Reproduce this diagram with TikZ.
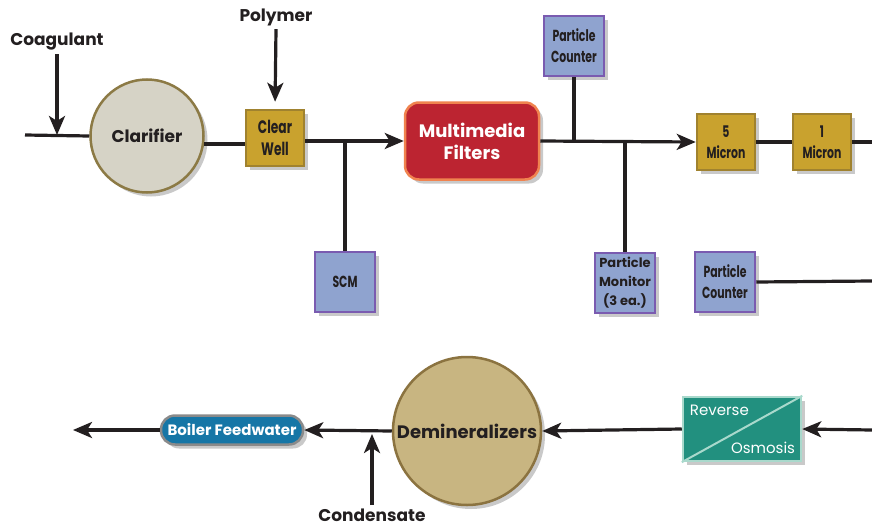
\documentclass[tikz,border=0pt]{standalone}
\usepackage{fontspec}
\setmainfont{Poppins}
\newfontfamily\narrowfont[FakeStretch=0.68]{Poppins}
\usetikzlibrary{arrows.meta,shadows}

\definecolor{linec}{HTML}{231F20}
\definecolor{clarfill}{HTML}{D6D3C6}
\definecolor{clardraw}{HTML}{8C7A45}
\definecolor{goldfill}{HTML}{C9A22E}
\definecolor{golddraw}{HTML}{A0822F}
\definecolor{meterfill}{HTML}{8FA3CF}
\definecolor{meterdraw}{HTML}{7A5BB0}
\definecolor{filtfill}{HTML}{BC2431}
\definecolor{filtdraw}{HTML}{F0834F}
\definecolor{rofill}{HTML}{22907F}
\definecolor{rodraw}{HTML}{A9D9CC}
\definecolor{deminfill}{HTML}{C8B581}
\definecolor{demindraw}{HTML}{8B7340}
\definecolor{bfwfill}{HTML}{1676A6}
\definecolor{bfwdraw}{HTML}{8A8A8A}

\begin{document}
\begin{tikzpicture}[x=1pt,y=-1pt,
    pipe/.style={line width=3.2pt, draw=linec},
    flow/.style={pipe, -{Stealth[length=19pt,width=16pt,inset=5pt]}},
    boxshadow/.style={drop shadow={shadow xshift=4pt,shadow yshift=-4pt,opacity=0.3,fill=black!70}},
    tag/.style={font=\bfseries\fontsize{17}{20}\selectfont, text=linec},
    gold/.style={draw=golddraw, fill=goldfill, line width=2.5pt, minimum width=58pt,
      minimum height=56pt, inner sep=0pt, align=center, text=linec,
      font=\narrowfont\bfseries\fontsize{16}{21}\selectfont, boxshadow},
    meter/.style={gold, draw=meterdraw, fill=meterfill, minimum width=60pt, minimum height=60pt},
    clarstyle/.style={circle, draw=clardraw, fill=clarfill, line width=2.5pt,
      minimum size=113pt, inner sep=0pt, text=linec, tag, boxshadow},
    filt/.style={rectangle, rounded corners=14pt, draw=filtdraw, fill=filtfill,
      line width=2.5pt, minimum width=134pt, minimum height=77pt, align=center,
      text=white, font=\bfseries\fontsize{18}{22}\selectfont, boxshadow},
    demstyle/.style={circle, draw=demindraw, fill=deminfill, line width=2.5pt,
      minimum size=148pt, inner sep=0pt, text=linec,
      font=\bfseries\fontsize{18}{20}\selectfont, boxshadow},
    bfw/.style={rectangle, rounded corners=14pt, draw=bfwdraw, fill=bfwfill,
      line width=2.5pt, minimum width=142pt, minimum height=29pt, text=white,
      font=\bfseries\fontsize{15}{18}\selectfont, boxshadow},
    rostyle/.style={rectangle, draw=rodraw, fill=rofill, line width=2.5pt,
      minimum width=118pt, minimum height=64pt, boxshadow},
    rotext/.style={text=white, inner sep=0pt, font=\fontsize{15}{18}\selectfont}]
  \useasboundingbox (0,0) rectangle (872,527);

  % top row
  \node[tag] (coag) at (57,42) {Coagulant};
  \node[tag] (poly) at (276,17) {Polymer};
  \node[clarstyle] (clar) at (147,136) {Clarifier};
  \node[gold, font=\narrowfont\bfseries\fontsize{18}{22}\selectfont] (cw) at (275,138) {Clear\\Well};
  \node[filt] (mm) at (472,141) {Multimedia\\Filters};
  \node[gold] (m5) at (726,142) {5\\Micron};
  \node[gold] (m1) at (822,142) {1\\Micron};

  % monitors
  \node[meter] (scm) at (345,282) {SCM};
  \node[meter] (pc1) at (574,46) {Particle\\Counter};
  \node[meter, font=\bfseries\fontsize{13}{19}\selectfont] (pm) at (625,283) {Particle\\Monitor\\(3 ea.)};
  \node[meter] (pc2) at (725,282) {Particle\\Counter};

  % bottom row
  \node[rostyle] (ro) at (742,429) {};
  \node[demstyle] (demin) at (467,431) {Demineralizers};
  \node[bfw] (bf) at (232,430) {Boiler Feedwater};
  \node[tag] (cond) at (372,515) {Condensate};
  \draw[rodraw, line width=2pt] (ro.south west) -- (ro.north east);
  \node[rotext, anchor=north west] (rev) at ([xshift=8pt,yshift=-9pt]ro.north west) {Reverse};
  \node[rotext, anchor=south east] (osm) at ([xshift=-7pt,yshift=8pt]ro.south east) {Osmosis};

  \coordinate (coagin) at (25,135);
  \coordinate (r1) at (872,142);
  \coordinate (r3) at (872,281);
  \coordinate (r2) at (872,430);
  \coordinate (l2) at (73,430);

  % connectors
  \draw[pipe] (coagin) -- (clar.west);
  \draw[flow] (coag.south) -- (coag.south |- coagin);
  \draw[flow, shorten >=7pt] (poly.south) -- (cw.north);
  \draw[pipe] (clar.-8) -- (clar.-8 -| cw.west);
  \draw[flow] (cw.east |- mm.west) -- (mm.west);
  \draw[pipe] (scm.north |- mm.west) -- (scm.north);
  \draw[flow] (mm.east) -- (m5.west);
  \draw[pipe] (pc1.south) -- (pc1.south |- mm.east);
  \draw[pipe] (pm.north |- mm.east) -- (pm.north);
  \draw[pipe] (m5.east) -- (m1.west);
  \draw[pipe] (m1.east) -- (r1);
  \draw[pipe] (pc2.east) -- (r3);
  \draw[flow] (r2) -- (ro.east);
  \draw[flow] (ro.west) -- (demin.east);
  \draw[flow] (demin.west) -- (bf.east);
  \draw[flow] (bf.west) -- (l2);
  \draw[flow, shorten >=3pt] (cond.north) -- (cond.north |- demin.west);
\end{tikzpicture}
\end{document}
